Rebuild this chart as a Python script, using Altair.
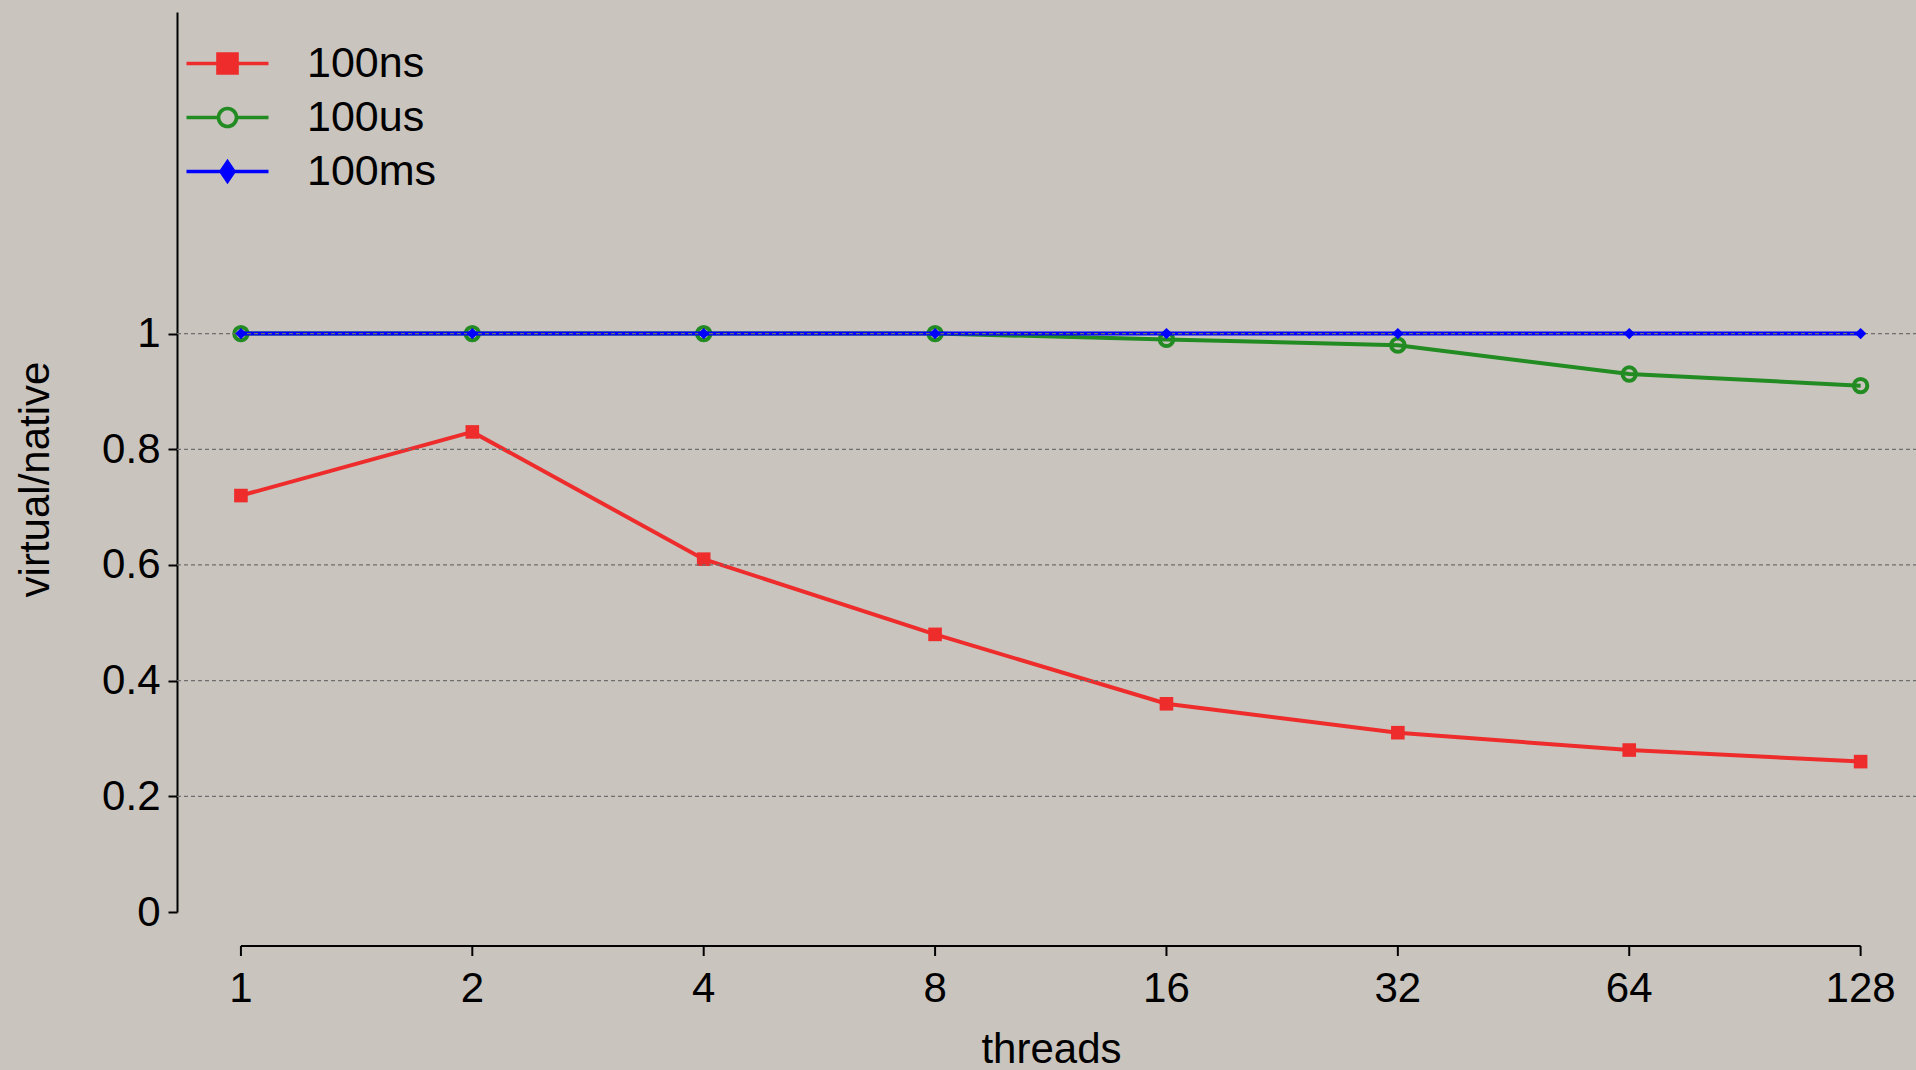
import altair as alt
import pandas as pd
import jinja2

threads = [1, 2, 4, 8, 16, 32, 64, 128]
tick_labels = ["1", "2", "4", "8", "16", "32", "64", "128"]
series_names = ["100ns", "100us", "100ms"]
v_100ns = [0.72, 0.83, 0.61, 0.48, 0.36, 0.31, 0.28, 0.26]
v_100us = [1.0, 1.0, 1.0, 1.0, 0.99, 0.98, 0.93, 0.91]
v_100ms = [1.0, 1.0, 1.0, 1.0, 1.0, 1.0, 1.0, 1.0]
y_ticks = [0, 0.2, 0.4, 0.6, 0.8, 1.0]
grid_values = [0.2, 0.4, 0.6, 0.8, 1.0]

RED = "#EE2C2C"
GREEN = "#228B22"
BLUE = "#0000FF"
BG = "#C9C4BE"
FONT = "Liberation Sans"

W, H = 1739, 900

rows = []
for name, vals in zip(series_names, [v_100ns, v_100us, v_100ms]):
    for t, v in zip(threads, vals):
        rows.append({"threads": t, "value": v, "series": name})
df = pd.DataFrame(rows)

xscale = alt.Scale(type="log", base=2, domain=[0.8257, 151.1], nice=False, zero=False)
yscale = alt.Scale(domain=[0, 1.556], nice=False, zero=False)

X = alt.X("threads:Q", scale=xscale,
          axis=alt.Axis(domain=False, ticks=False, labels=False, grid=False,
                        title="threads", titleX=874, titleY=150,
                        titleBaseline="alphabetic", titleFontSize=42,
                        titleFontWeight="normal", titleFont=FONT, titleColor="black"))
Y = alt.Y("value:Q", scale=yscale,
          axis=alt.Axis(values=y_ticks, format="~g", grid=False, tickSize=9,
                        tickWidth=2, tickColor="black", domainColor="black",
                        domainWidth=2, labelFontSize=42, labelFont=FONT,
                        labelColor="black", labelPadding=8,
                        title="virtual/native", titleFontSize=42, titleFont=FONT,
                        titleFontWeight="normal", titleColor="black",
                        titleAngle=270, titleX=-142, titleY=467,
                        titleBaseline="middle", titleAlign="center"))

base = alt.Chart(df)
colors = {"100ns": RED, "100us": GREEN, "100ms": BLUE}

def line_layer(name):
    return base.transform_filter(alt.datum.series == name).mark_line(
        color=colors[name], strokeWidth=4).encode(x=X, y=Y)

pts_ns = base.transform_filter(alt.datum.series == "100ns").mark_point(
    shape="square", filled=True, color=RED, size=185, opacity=1).encode(x=X, y=Y)
pts_us = base.transform_filter(alt.datum.series == "100us").mark_point(
    shape="circle", filled=False, color=GREEN, size=180, strokeWidth=4, opacity=1).encode(x=X, y=Y)
pts_ms = base.transform_filter(alt.datum.series == "100ms").mark_point(
    shape="diamond", filled=True, color=BLUE, size=130, opacity=1).encode(x=X, y=Y)

grid = alt.Chart(pd.DataFrame({"g": grid_values})).mark_rule(
    color="#6e6e6e", strokeWidth=1.2, strokeDash=[4, 3]).encode(
    y=alt.Y("g:Q", scale=yscale), x=alt.value(0), x2=alt.value(W))

# manual x axis (domain line spans 1..128 only)
axdf = pd.DataFrame({"threads": threads, "label": tick_labels})
span = pd.DataFrame({"x0": [min(threads)], "x1": [max(threads)]})
xdomain = alt.Chart(span).mark_rule(color="black", strokeWidth=2).encode(
    x=alt.X("x0:Q", scale=xscale), x2="x1:Q", y=alt.value(934))
xticks = alt.Chart(axdf).mark_rule(color="black", strokeWidth=2).encode(
    x=alt.X("threads:Q", scale=xscale), y=alt.value(934), y2=alt.value(944))
xlabels = alt.Chart(axdf).mark_text(
    font=FONT, fontSize=42, baseline="middle", align="center", color="black").encode(
    x=alt.X("threads:Q", scale=xscale), y=alt.value(977), text="label:N")

# legend layer (no marks drawn, only legend)
leg_paths = [
    "M-4.1,0H4.1M-0.95,-0.95H0.95V0.95H-0.95Z",
    "M-4.1,0H-0.9M0.9,0H4.1M-0.9,0A0.9,0.9,0,1,0,0.9,0A0.9,0.9,0,1,0,-0.9,0Z",
    "M-4.1,0H4.1M0,-0.95L0.65,0L0,0.95L-0.65,0Z",
]
legend = alt.Legend(title=None, orient="none", legendX=29, legendY=30,
                    direction="vertical", symbolSize=400, symbolStrokeWidth=3.6,
                    labelFontSize=43, labelFont=FONT, labelColor="black",
                    labelOffset=58, rowPadding=10, labelLimit=400)
leg = base.transform_filter("false").mark_point(opacity=1).encode(
    x=X, y=Y,
    shape=alt.Shape("series:N", scale=alt.Scale(domain=series_names, range=leg_paths), legend=legend),
    stroke=alt.Stroke("series:N", scale=alt.Scale(domain=series_names, range=[RED, GREEN, BLUE]), legend=legend),
    fill=alt.Fill("series:N", scale=alt.Scale(domain=series_names, range=[RED, "transparent", BLUE]), legend=legend),
)

chart = alt.layer(
    line_layer("100ns"), pts_ns,
    line_layer("100us"), pts_us,
    line_layer("100ms"), grid, pts_ms,
    xdomain, xticks, xlabels, leg,
).properties(
    width=W, height=H,
    autosize=alt.AutoSizeParams(type="none"),
    padding={"left": 177, "top": 12, "right": 0, "bottom": 158},
    background=BG,
).configure_view(stroke=None)

page = jinja2.Template("""<!DOCTYPE html>
<html>
<head>
<style>
  html, body { margin: 0; padding: 0; background: """ + BG + """; overflow: hidden; }
</style>
<script type="text/javascript" src="{{ base_url }}/vega@{{ vega_version }}"></script>
<script type="text/javascript" src="{{ base_url }}/vega-lite@{{ vegalite_version }}"></script>
<script type="text/javascript" src="{{ base_url }}/vega-embed@{{ vegaembed_version }}"></script>
</head>
<body>
<div id="{{ output_div }}"></div>
<script type="text/javascript">
  (function(vegaEmbed) {
    var spec = {{ spec }};
    var embedOpt = {{ embed_options }};
    vegaEmbed("#{{ output_div }}", spec, embedOpt).catch(console.error);
  })(vegaEmbed);
</script>
</body>
</html>
""")

chart.save("out.html", embed_options={"renderer": "svg", "actions": False}, template=page)
